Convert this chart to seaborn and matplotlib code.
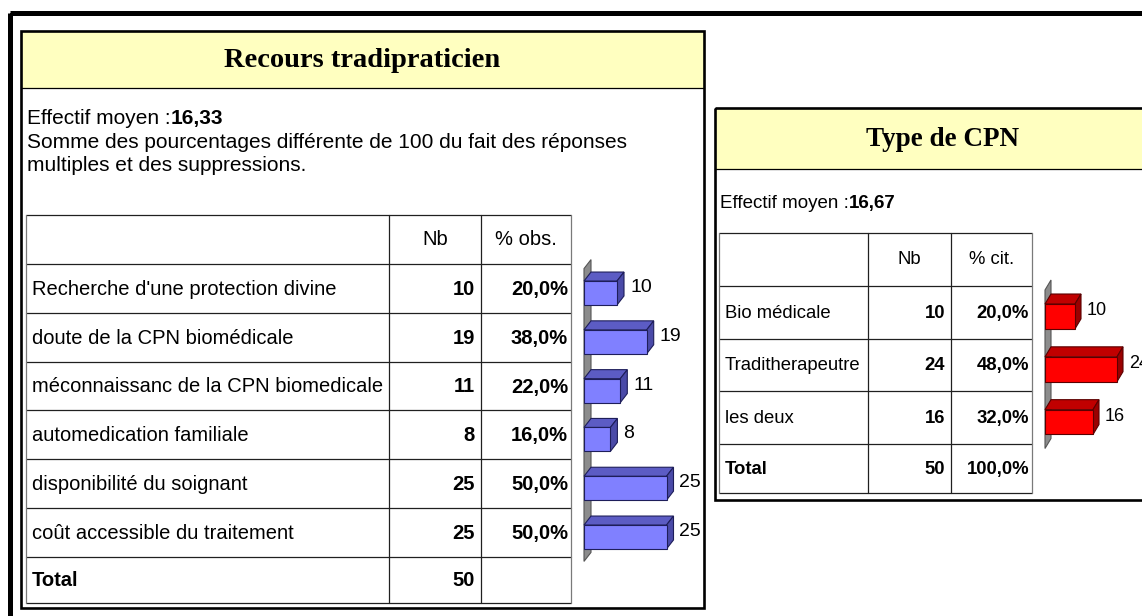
import numpy as np
import matplotlib
matplotlib.use("Agg")
import matplotlib.pyplot as plt
import seaborn as sns
from matplotlib.patches import Rectangle, Polygon

# data
recours_labels = ["Recherche d'une protection divine", "doute de la CPN biomédicale",
                  "méconnaissanc de la CPN biomedicale", "automedication familiale",
                  "disponibilité du soignant", "coût accessible du traitement"]
recours_nb = [10, 19, 11, 8, 25, 25]
recours_total = 50
recours_effectif = "16,33"

cpn_labels = ["Bio médicale", "Traditherapeutre", "les deux"]
cpn_nb = [10, 24, 16]
cpn_total = 50
cpn_effectif = "16,67"


def fmt_pct(v, total):
    return f"{v / total * 100:.1f}%".replace(".", ",")


sns.set_style("white")
plt.rcParams["font.family"] = ["Liberation Sans", "DejaVu Sans"]
plt.rcParams["text.color"] = "black"
SERIF = ["Liberation Serif", "DejaVu Serif"]

W, H = 1142, 616
fig = plt.figure(figsize=(W / 100, H / 100), dpi=100)
bg = fig.add_axes([0, 0, 1, 1])
bg.set_xlim(0, W)
bg.set_ylim(H, 0)
bg.axis("off")
renderer = fig.canvas.get_renderer()


def px_axes(x0, y0, x1, y1):
    return fig.add_axes([x0 / W, 1 - y1 / H, (x1 - x0) / W, (y1 - y0) / H])


def panel(x0, y0, x1, y1, band_bottom, title, size):
    bg.add_patch(Rectangle((x0, y0), x1 - x0, band_bottom - y0, fc="#FFFFC0", ec="none"))
    bg.plot([x0, x1], [band_bottom, band_bottom], color="black", lw=0.9)
    bg.add_patch(Rectangle((x0, y0), x1 - x0, y1 - y0, fill=False, ec="black", lw=1.9))
    bg.text((x0 + x1) / 2, (y0 + band_bottom) / 2 + 1, title, family=SERIF,
            weight="bold", size=size, ha="center", va="center")


def effectif(x, y, value, size):
    t = bg.text(x, y, "Effectif moyen :", size=size, va="baseline")
    bb = t.get_window_extent(renderer)
    x2 = bg.transData.inverted().transform((bb.x1, bb.y0))[0]
    bg.text(x2, y, value, size=size, weight="bold", va="baseline")


def table(xs, ys, header, labels, nb, total, total_pct, size):
    for y in ys:
        bg.plot([xs[0], xs[-1]], [y, y], color="#202020", lw=0.9)
    for i, x in enumerate(xs):
        c = "#7a7a7a" if i in (0, len(xs) - 1) else "#202020"
        bg.plot([x, x], [ys[0], ys[-1]], color=c, lw=0.9)
    hc = (ys[0] + ys[1]) / 2
    for j, h in enumerate(header):
        bg.text((xs[j + 1] + xs[j + 2]) / 2, hc, h, size=size, ha="center", va="center")
    for i, (lab, v) in enumerate(zip(labels, nb)):
        yc = (ys[i + 1] + ys[i + 2]) / 2 + 1
        bg.text(xs[0] + 6, yc, lab, size=size, va="center")
        bg.text(xs[2] - 6, yc, str(v), size=size, weight="bold", ha="right", va="center")
        bg.text(xs[3] - 3, yc, fmt_pct(v, total), size=size, weight="bold", ha="right", va="center")
    yc = (ys[-2] + ys[-1]) / 2 + 1
    bg.text(xs[0] + 6, yc, "Total", size=size, weight="bold", va="center")
    bg.text(xs[2] - 6, yc, str(total), size=size, weight="bold", ha="right", va="center")
    if total_pct:
        bg.text(xs[3] - 3, yc, total_pct, size=size, weight="bold", ha="right", va="center")


def bars3d(values, labels, x0, x1, y0, y1, px_unit, bar_w, colors, edge, dx, dy, lsize):
    front, top_c, side_c = colors
    ax = px_axes(x0, y0, x1, y1)
    ax.patch.set_alpha(0)
    sns.barplot(x=values, y=labels, orient="h", color=front, saturation=1,
                width=bar_w, edgecolor=edge, linewidth=0.8, ax=ax)
    ax.set_xlim(0, (x1 - x0) / px_unit)
    ax.set_ylim(len(values) - 0.5, -0.5)
    ax.axis("off")

    def to_bg(pts):
        return bg.transData.inverted().transform(ax.transData.transform(pts))

    (wx, wtop), (_, wbot) = to_bg([(0, -0.5), (0, len(values) - 0.5)])
    wall = [(wx, wbot), (wx, wtop), (wx + dx, wtop - dy), (wx + dx, wbot - dy)]
    bg.add_patch(Polygon(wall, closed=True, fc="#8c8c8c", ec="#555555", lw=0.8))

    for p, v in zip(ax.patches, values):
        (bx0, ya), (bx1, yb) = to_bg([(p.get_x(), p.get_y()),
                                      (p.get_x() + p.get_width(), p.get_y() + p.get_height())])
        t, b = min(ya, yb), max(ya, yb)
        top = [(bx0, t), (bx1, t), (bx1 + dx, t - dy), (bx0 + dx, t - dy)]
        side = [(bx1, t), (bx1, b), (bx1 + dx, b - dy), (bx1 + dx, t - dy)]
        bg.add_patch(Polygon(top, closed=True, fc=top_c, ec=edge, lw=0.8))
        bg.add_patch(Polygon(side, closed=True, fc=side_c, ec=edge, lw=0.8))
        bg.text(bx1 + dx + 6, (t - dy + b) / 2 - 1, str(v), size=lsize, va="center")
    return ax


# outer frame (only top/left edges fall inside the picture)
bg.add_patch(Rectangle((9.5, 12.5), 1300, 800, fill=False, ec="black", lw=3.6))

# left block: Recours tradipraticien
panel(21, 30.5, 704, 608, 88, "Recours tradipraticien", 20.5)
effectif(27, 124, recours_effectif, 15)
bg.text(27, 148, "Somme des pourcentages différente de 100 du fait des réponses",
        size=15, va="baseline")
bg.text(27, 171, "multiples et des suppressions.", size=15, va="baseline")
left_ys = [215] + list(264 + 48.8 * np.arange(7)) + [603]
table([26, 389, 481, 571], left_ys, ["Nb", "% obs."], recours_labels, recours_nb,
      recours_total, None, 14.5)
bars3d(recours_nb, recours_labels, 584, 704, 268.6, 561.4, 3.3, 0.49,
       ("#8080FF", "#5C5CC4", "#4A4AA8"), "#1E1E5A", 7, 9, 14)

# right block: Type de CPN
panel(715, 107.5, 1170, 500, 169, "Type de CPN", 19.5)
effectif(720, 208, cpn_effectif, 13.5)
right_ys = [233] + list(285.7 + 52.8 * np.arange(4)) + [493]
table([719, 868, 951, 1032], right_ys, ["Nb", "% cit."], cpn_labels, cpn_nb,
      cpn_total, "100,0%", 13.3)
bars3d(cpn_nb, cpn_labels, 1045, 1142, 290, 448.5, 3.0, 0.47,
       ("#FF0000", "#C00000", "#9A0000"), "#5A0000", 6, 10, 13)

fig.savefig("out.png", dpi=100)
